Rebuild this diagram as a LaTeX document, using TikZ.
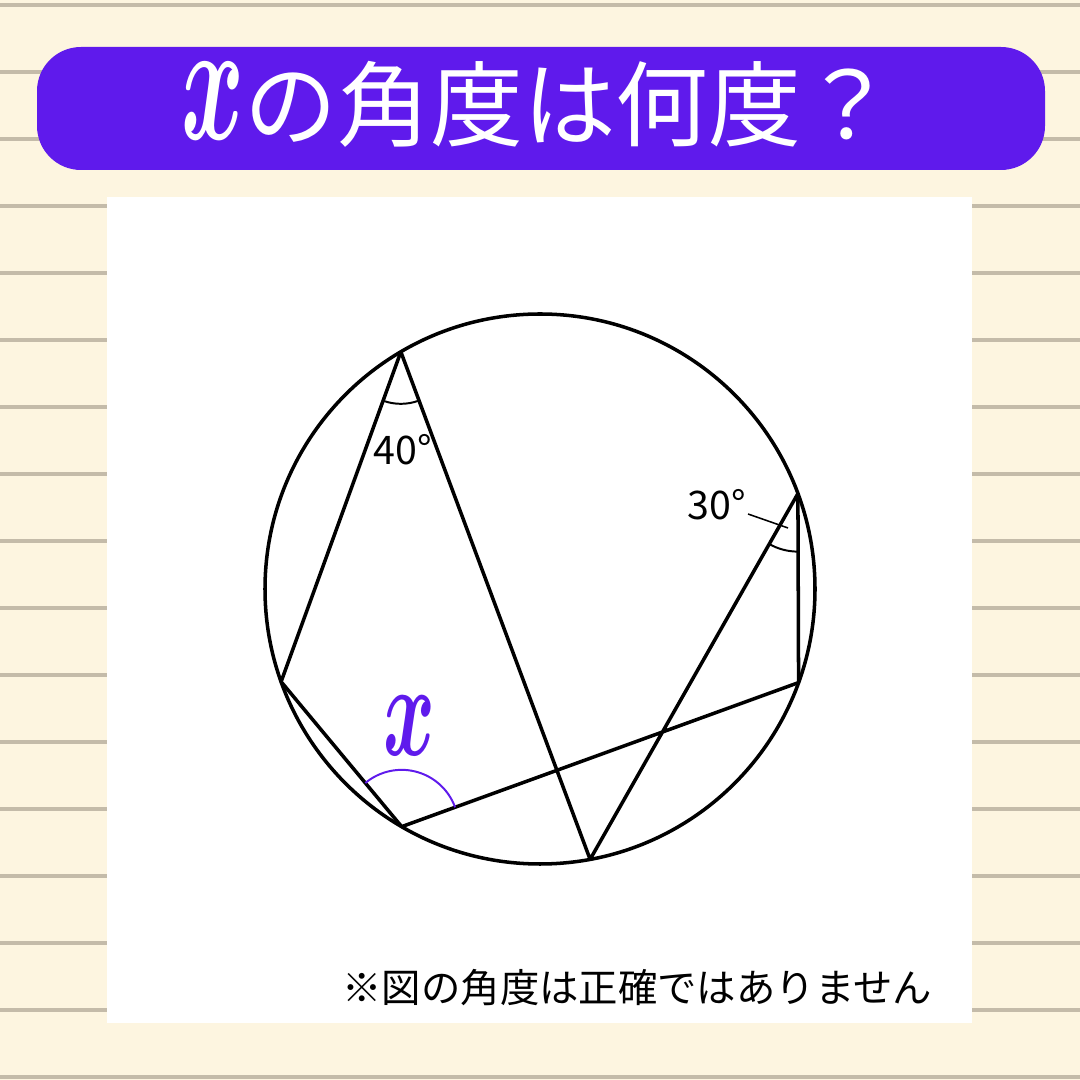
\documentclass[tikz,border=0pt]{standalone}
\usepackage{fontspec}
\usepackage{graphicx}
\usetikzlibrary{angles}
\newfontfamily\jpfont{Noto Sans CJK JP}
\definecolor{paper}{HTML}{FDF5E0}
\definecolor{ruleline}{HTML}{C4BBA9}
\definecolor{violet}{HTML}{5F1AEC}

\begin{document}
\begin{tikzpicture}[x=0.025cm,y=0.025cm]
        % paper with ruled lines
        \fill[paper] (0,0) rectangle (1080,1080);
        \useasboundingbox (0,0) rectangle (1080,1080);
        \foreach \k in {0,...,16}
            \draw[ruleline, line width=2.8pt] (0,1075-67*\k) -- (1080,1075-67*\k);

        % title bar
        \fill[violet, rounded corners=1.1cm] (37,910) rectangle (1045,1033);
        \node[anchor=base, text=white, font=\jpfont\fontsize{66}{70}\selectfont] (title) at (538,940)
            {\scalebox{6.8}[12.3]{\normalsize\boldmath$x$}の角度は何度？};

        % white panel
        \fill[white] (107,57) rectangle (972,883);

        % circle and points on it
        \coordinate (O) at (540,491);
        \draw[line width=2.5pt] (O) circle (275);
        \begin{scope}[shift={(540,491)}]
            \coordinate (A) at (120.4:275);
            \coordinate (B) at (199.7:275);
            \coordinate (C) at (239.8:275);
            \coordinate (D) at (280.5:275);
            \coordinate (E) at (20.3:275);
            \coordinate (F) at (340.1:275);
        \end{scope}

        % chords
        \draw[line width=2.5pt, line join=round] (B) -- (A) -- (D) -- (E) -- (F) -- (C) -- cycle;

        % given angles
        \pic[draw, line width=1.4pt, angle radius=1.3cm] {angle=B--A--D};
        \node[anchor=base, font=\jpfont\fontsize{28}{30}\selectfont] (fortydeg) at (403,615) {40°};
        \pic[draw, line width=1.4pt, angle radius=1.45cm] {angle=D--E--F};
        \node[anchor=base, font=\jpfont\fontsize{28}{30}\selectfont] (thirtydeg) at (717,560) {30°};
        \coordinate (lead) at (788,552);
        \draw[line width=1.1pt] (748,566) -- (lead);

        % unknown angle
        \pic[draw=violet, line width=1.4pt, angle radius=1.42cm] {angle=F--C--B};
        \node[text=violet] (xlabel) at (409,354) {\scalebox{5.6}[9.5]{\boldmath$x$}};

        % note
        \node[anchor=base east, font=\jpfont\fontsize{28}{30}\selectfont] (note) at (937,77)
            {※図の角度は正確ではありません};
    \end{tikzpicture}
\end{document}
